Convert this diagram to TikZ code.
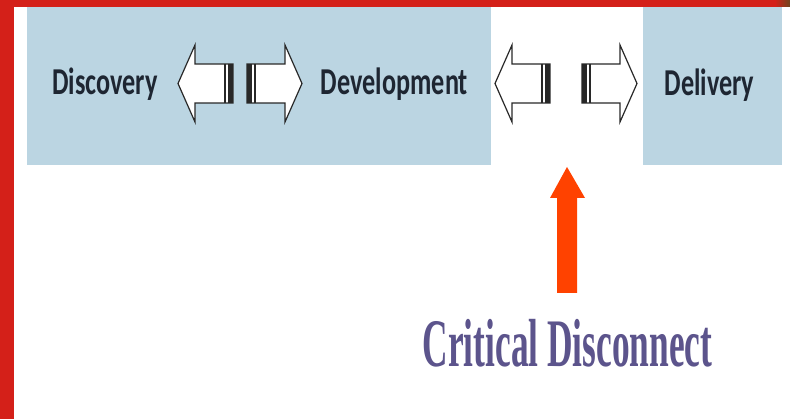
\documentclass[tikz,border=0pt]{standalone}
\usepackage{fontspec}
\setmainfont{Liberation Serif}
\newfontfamily\calfont{Carlito}
\usetikzlibrary{calc}
\definecolor{frame}{RGB}{212,32,25}
\definecolor{boxblue}{RGB}{187,213,226}
\definecolor{lbl}{RGB}{30,38,50}
\definecolor{hot}{RGB}{255,66,0}
\definecolor{purp}{RGB}{92,84,140}
\definecolor{arrowline}{RGB}{40,40,40}
\tikzset{
  phase/.style={fill=boxblue, draw=none, inner sep=0pt},
  lab/.style={text=lbl, inner sep=0pt, anchor=base},
  blockarrow/.style={fill=white, draw=arrowline, line width=1.2pt, line join=miter},
}
\newcommand{\lbltext}[1]{\scalebox{0.69}[1]{\calfont\bfseries\fontsize{38}{40}\selectfont #1}}
% left-pointing block arrow, tip at origin, length 55
\newcommand{\blockarr}{%
  \draw[blockarrow] (55,-19.5) -- (17,-19.5) -- (17,-38.5) -- (0,0) -- (17,38.5) -- (17,19.5) -- (55,19.5) -- cycle;
  \draw[arrowline, line width=1.6pt] (47,-19.5) -- (47,19.5);
  \fill[arrowline] (50,-19.5) rectangle (55,19.5);
}
\begin{document}
\begin{tikzpicture}[x=1pt,y=-1pt]
\useasboundingbox (0,0) rectangle (790,419);
\fill[white] (0,0) rectangle (790,419);
% frame bands
\fill[frame] (0,0) rectangle (14,419);
\fill[frame] (0,0) rectangle (780,7);
\fill[left color=frame, right color={rgb,255:red,110;green,70;blue,30}] (775,0) rectangle (790,7);
% phase boxes
\node[phase, minimum width=464pt, minimum height=158pt, anchor=north west] (box1) at (27,7) {};
\node[phase, minimum width=139pt, minimum height=158pt, anchor=north west] (box2) at (643,7) {};
% labels
\node[lab] (disc) at (105,95) {\lbltext{Discovery}};
\node[lab] (dev) at (394.5,95) {\lbltext{Development}};
\node[lab] (deliv) at (709.5,96) {\lbltext{Delivery}};
% block arrows
\begin{scope}[shift={(178,83.5)}]\blockarr\end{scope}
\begin{scope}[shift={(302,83.5)}, xscale=-1]\blockarr\end{scope}
\begin{scope}[shift={(495,83.5)}]\blockarr\end{scope}
\begin{scope}[shift={(637,83.5)}, xscale=-1]\blockarr\end{scope}
% critical disconnect
\node[text=purp, inner sep=0pt, anchor=base] (crit) at (567.5,367)
  {\scalebox{0.52}[1]{\bfseries\fontsize{68}{70}\selectfont Critical Disconnect}};
\coordinate (gap) at (567,167);
\fill[hot] (557,293) -- (557,198) -- (550,198) -- (gap) -- (585,198) -- (577,198) -- (577,293) -- cycle;
\end{tikzpicture}
\end{document}
